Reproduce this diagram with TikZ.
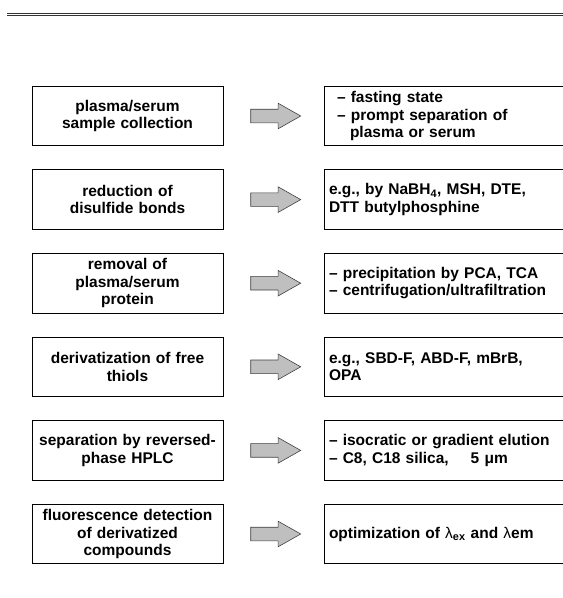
\documentclass[tikz,border=0pt]{standalone}
\usepackage{fontspec}
\setmainfont{Liberation Sans}
\usetikzlibrary{positioning,shapes.arrows,calc}

\begin{document}
\begin{tikzpicture}[x=1pt, y=-1pt,
  stage/.style = {draw, line width=0.8pt, minimum width=191pt, minimum height=59.5pt, text width=181pt, align=center, inner sep=0pt},
  note/.style = {draw, line width=0.8pt, minimum width=251pt, minimum height=59.5pt, text width=241pt, align=left, inner xsep=5pt, inner ysep=0pt},
  blk/.style = {single arrow, draw=black!75, fill=black!25, line width=0.6pt, minimum height=50pt, single arrow head extend=6pt, single arrow tip angle=59, text height=6.5pt, text depth=6.5pt, inner sep=0pt, anchor=tail},
  node distance=23.3pt, font=\fontsize{15.5}{17.5}\selectfont\bfseries]
\useasboundingbox (0,0) rectangle (563,598);
% double rule at the top
\draw[line width=0.7pt, black!80] (7,13.3) -- (570,13.3);
\draw[line width=0.7pt, black!80] (7,15.5) -- (570,15.5);
% steps
\node[stage] (1) at (127.5,116) {plasma/serum\\sample collection};
\node[stage] (2) [below=of 1] {reduction of\\disulfide bonds};
\node[stage] (3) [below=of 2] {removal of\\plasma/serum\\protein};
\node[stage] (4) [below=of 3] {derivatization of free\\thiols};
\node[stage] (5) [below=of 4] {separation by reversed-\\phase HPLC};
\node[stage] (6) [below=of 5] {fluorescence detection\\of derivatized\\compounds};
% remarks
\node[note] (7) at (449.5,116) {\hspace*{8pt}– fasting state\\\hspace*{8pt}– prompt separation of\\\hspace*{21pt}plasma or serum};
\node[note] (8) [below=of 7] {e.g., by NaBH\textsubscript{4}, MSH, DTE,\\DTT butylphosphine};
\node[note] (9) [below=of 8] {– precipitation by PCA, TCA\\– centrifugation/ultrafiltration};
\node[note] (10) [below=of 9] {e.g., SBD-F, ABD-F, mBrB,\\OPA};
\node[note] (11) [below=of 10] {– isocratic or gradient elution\\– C8, C18 silica,\hspace{22pt}5 μm};
\node[note] (12) [below=of 11] {optimization of {\mdseries λ}\textsubscript{ex} and {\mdseries λ}em};
% arrows
\node[blk] (a1) at ($(1.east)+(27,0)$) {};
\node[blk] (a2) at ($(2.east)+(27,0)$) {};
\node[blk] (a3) at ($(3.east)+(27,0)$) {};
\node[blk] (a4) at ($(4.east)+(27,0)$) {};
\node[blk] (a5) at ($(5.east)+(27,0)$) {};
\node[blk] (a6) at ($(6.east)+(27,0)$) {};
\end{tikzpicture}
\end{document}
